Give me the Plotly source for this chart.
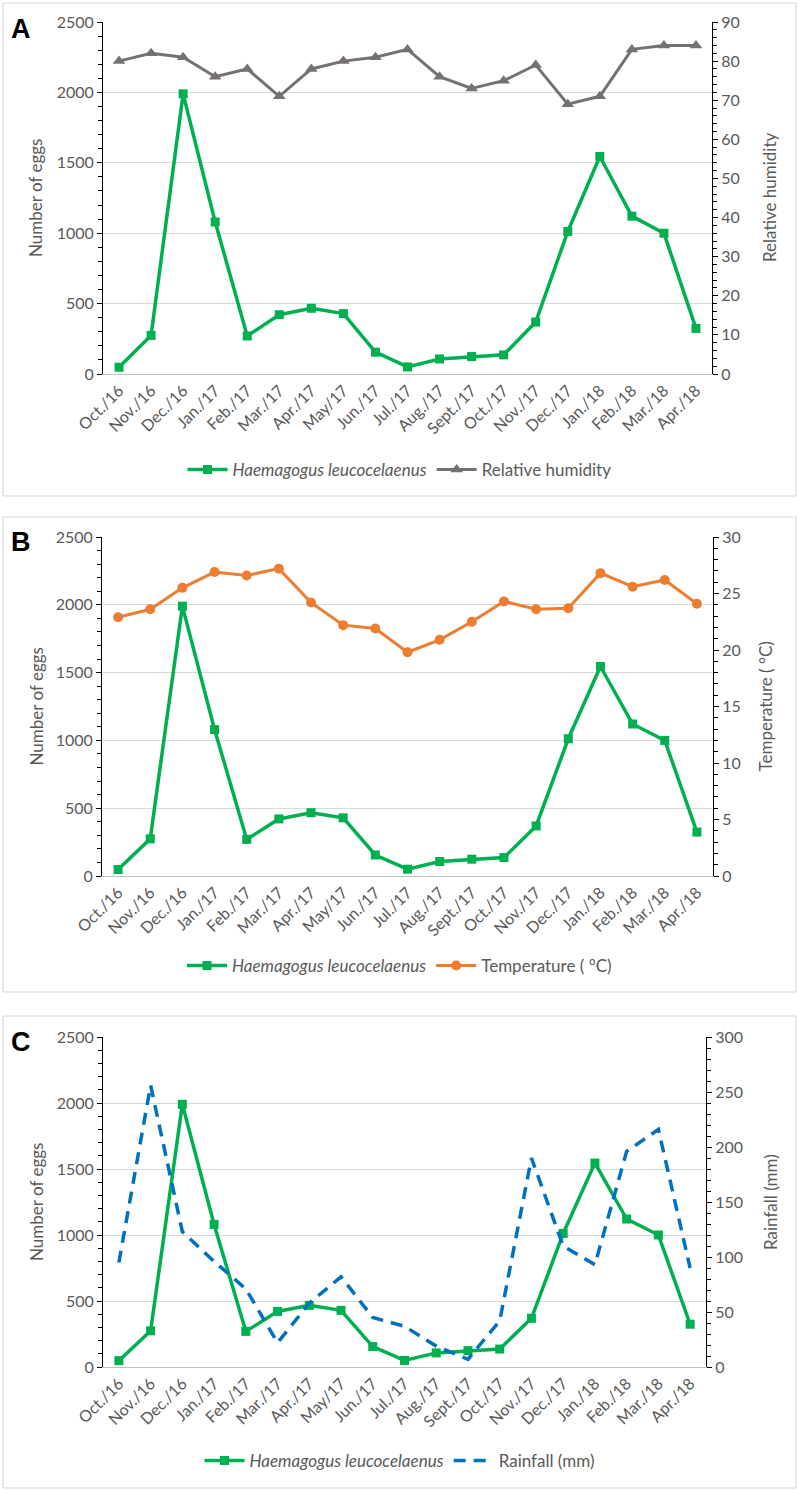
import plotly.graph_objects as go

months = ["Oct./16", "Nov./16", "Dec./16", "Jan./17", "Feb./17", "Mar./17", "Apr./17", "May/17",
          "Jun./17", "Jul./17", "Aug./17", "Sept./17", "Oct./17", "Nov./17", "Dec./17", "Jan./18",
          "Feb./18", "Mar./18", "Apr./18"]
eggs = [48, 274, 1990, 1080, 270, 421, 467, 429, 155, 50, 107, 124, 136, 369, 1012, 1545, 1121, 1000, 324]
humidity = [80, 82, 81, 76, 78, 71, 78, 80, 81, 83, 76, 73, 75, 79, 69, 71, 83, 84, 84]
temperature = [22.9, 23.6, 25.5, 26.9, 26.6, 27.2, 24.2, 22.2, 21.9, 19.8, 20.9, 22.5, 24.3, 23.6, 23.7,
               26.8, 25.6, 26.2, 24.1]
rainfall = [95, 256, 123, 96, 71, 22, 58, 82, 45, 37, 19, 7, 42, 190, 110, 93, 196, 216, 90]

GREEN = "#00B050"
GREY = "#767171"
ORANGE = "#ED7D31"
BLUE = "#0070C0"
TXT = "#595959"
GRID = "#D9D9D9"
FONT = "Lato"
W, H = 799, 1491


def py(px):
    return 1 - px / H


panels = [
    dict(x0=103, x1=712, y0=374, y1=22, box=(3, 796, 3, 496), label="A", ly=29, legy=470,
         rname="Relative humidity", rvals=humidity, rrange=[0, 90], rdtick=10, rminor=2,
         color=GREY, symbol="triangle-up", dash="solid", rsize=11, rtx=770),
    dict(x0=102, x1=713, y0=876, y1=537, box=(3, 796, 517, 992), label="B", ly=542, legy=966,
         rname="Temperature ( °C)", rvals=temperature, rrange=[0, 30], rdtick=5, rminor=1,
         color=ORANGE, symbol="circle", dash="solid", rsize=10, rtx=765),
    dict(x0=103, x1=706, y0=1367, y1=1037, box=(3, 796, 1016, 1488), label="C", ly=1042, legy=1461,
         rname="Rainfall (mm)", rvals=rainfall, rrange=[0, 300], rdtick=50, rminor=10,
         color=BLUE, symbol=None, dash="12px,8px", rsize=0, rtx=770),
]

fig = go.Figure()
layout = dict(width=W, height=H, margin=dict(l=0, r=0, t=0, b=0, autoexpand=False), paper_bgcolor="white",
              plot_bgcolor="white", font=dict(family=FONT, color=TXT, size=14), shapes=[], annotations=[])

for i, p in enumerate(panels):
    xa = f"x{'' if i == 0 else i + 1}"
    yl = f"y{2 * i + 1 if i > 0 else ''}"
    yr = f"y{2 * i + 2}"
    leg = "legend" if i == 0 else f"legend{i + 1}"
    fig.add_trace(go.Scatter(x=months, y=eggs, name="<i>Haemagogus leucocelaenus</i>", mode="lines+markers",
                             line=dict(color=GREEN, width=3.5), marker=dict(symbol="square", size=9, color=GREEN),
                             xaxis=xa, yaxis=yl, legend=leg))
    if p["symbol"]:
        fig.add_trace(go.Scatter(x=months, y=p["rvals"], name=p["rname"], mode="lines+markers",
                                 line=dict(color=p["color"], width=3),
                                 marker=dict(symbol=p["symbol"], size=p["rsize"], color=p["color"]),
                                 xaxis=xa, yaxis=yr, legend=leg))
    else:
        fig.add_trace(go.Scatter(x=months, y=p["rvals"], name=p["rname"], mode="lines",
                                 line=dict(color=p["color"], width=3.5, dash=p["dash"]),
                                 xaxis=xa, yaxis=yr, legend=leg))
    xd = [p["x0"] / W, p["x1"] / W]
    yd = [py(p["y0"]), py(p["y1"])]
    xkey = "xaxis" if i == 0 else f"xaxis{i + 1}"
    ylkey = "yaxis" if i == 0 else f"yaxis{2 * i + 1}"
    yrkey = f"yaxis{2 * i + 2}"
    layout[xkey] = dict(domain=xd, anchor=yl, type="category", tickangle=-45, showgrid=False,
                        showline=True, linecolor="#BFBFBF", linewidth=1, ticks="", automargin=False,
                        tickfont=dict(size=16, color=TXT, family=FONT), range=[-0.5, 18.5], fixedrange=True)
    layout[ylkey] = dict(domain=yd, anchor=xa, range=[0, 2500], dtick=500, showgrid=True, gridcolor=GRID,
                         gridwidth=1, zeroline=False, showline=True, linecolor="black", linewidth=1,
                         ticks="outside", ticklen=5, tickcolor="black", automargin=False,
                         minor=dict(ticks="outside", dtick=100, ticklen=4, tickcolor="black", showgrid=False),
                         tickfont=dict(size=16, color=TXT, family=FONT))
    layout[yrkey] = dict(domain=yd, anchor=xa, overlaying=yl, side="right", range=p["rrange"],
                         dtick=p["rdtick"], showgrid=False, zeroline=False, showline=True, linecolor="black",
                         linewidth=1, ticks="outside", ticklen=5, tickcolor="black", automargin=False,
                         minor=dict(ticks="outside", dtick=p["rminor"], ticklen=4, tickcolor="black"),
                         tickfont=dict(size=16, color=TXT, family=FONT))
    layout[leg] = dict(orientation="h", x=0.5, xanchor="center", y=py(p["legy"]), yanchor="middle",
                       font=dict(size=17, color=TXT, family=FONT), bgcolor="rgba(0,0,0,0)",
                       itemwidth=40, tracegroupgap=0)
    bx0, bx1, by0, by1 = p["box"]
    layout["shapes"].append(dict(type="rect", xref="paper", yref="paper", x0=bx0 / W, x1=bx1 / W,
                                 y0=py(by1), y1=py(by0), line=dict(color=GRID, width=1.2)))
    layout["annotations"].append(dict(text=f"<b>{p['label']}</b>", xref="paper", yref="paper",
                                      x=9 / W, y=py(p["ly"]), xanchor="left", yanchor="middle",
                                      showarrow=False, font=dict(size=27, color="black", family="Liberation Sans")))
    ymid = py((p["y0"] + p["y1"]) / 2)
    layout["annotations"].append(dict(text="Number of eggs", xref="paper", yref="paper", x=36 / W, y=ymid,
                                      xanchor="center", yanchor="middle", textangle=-90, showarrow=False,
                                      font=dict(size=17, color=TXT, family=FONT)))
    layout["annotations"].append(dict(text=p["rname"], xref="paper", yref="paper", x=p["rtx"] / W, y=ymid,
                                      xanchor="center", yanchor="middle", textangle=-90, showarrow=False,
                                      font=dict(size=17, color=TXT, family=FONT)))

fig.update_layout(**layout)
fig.write_html("out.html", config={"displayModeBar": False},
               post_script="document.body.style.margin='0';document.body.style.overflow='hidden';")
